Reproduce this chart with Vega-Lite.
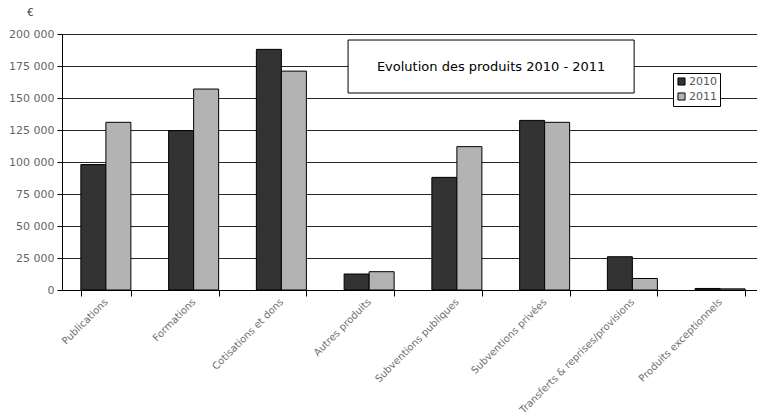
{
  "$schema": "https://vega.github.io/schema/vega-lite/v6.json",
  "autosize": "none",
  "width": 702,
  "height": 256,
  "padding": {"left": 62, "top": 34, "right": 0, "bottom": 129},
  "background": "white",
  "config": {
    "locale": {"number": {"decimal": ",", "thousands": " ", "grouping": [3], "currency": ["", " €"]}},
    "font": "DejaVu Sans",
    "view": {"stroke": null},
    "axis": {"labelFont": "DejaVu Sans", "titleFont": "DejaVu Sans"}
  },
  "datasets": {
    "produits": [
      {"cat": "Publications", "year": "2010", "v": 98000},
      {"cat": "Publications", "year": "2011", "v": 131000},
      {"cat": "Formations", "year": "2010", "v": 124500},
      {"cat": "Formations", "year": "2011", "v": 157000},
      {"cat": "Cotisations et dons", "year": "2010", "v": 188000},
      {"cat": "Cotisations et dons", "year": "2011", "v": 171000},
      {"cat": "Autres produits", "year": "2010", "v": 12500},
      {"cat": "Autres produits", "year": "2011", "v": 14300},
      {"cat": "Subventions publiques", "year": "2010", "v": 88000},
      {"cat": "Subventions publiques", "year": "2011", "v": 112000},
      {"cat": "Subventions privées", "year": "2010", "v": 132500},
      {"cat": "Subventions privées", "year": "2011", "v": 131000},
      {"cat": "Transferts & reprises/provisions", "year": "2010", "v": 26000},
      {"cat": "Transferts & reprises/provisions", "year": "2011", "v": 9000},
      {"cat": "Produits exceptionnels", "year": "2010", "v": 1200},
      {"cat": "Produits exceptionnels", "year": "2011", "v": 900}
    ],
    "titre": [{"label": "Evolution des produits 2010 - 2011"}]
  },
  "layer": [
    {
      "data": {"name": "produits"},
      "mark": {"type": "bar", "stroke": "#000000", "strokeWidth": 1},
      "encoding": {
        "x": {
          "field": "cat", "type": "nominal", "sort": null,
          "scale": {"paddingInner": 0.43, "paddingOuter": 0.215},
          "axis": {
            "title": null, "labelAngle": -45, "labelAlign": "right", "labelBaseline": "middle",
            "labelFontSize": 10, "labelColor": "#6e6e6e", "labelPadding": 4,
            "tickBand": "extent", "tickSize": 6, "tickColor": "#000000",
            "domainColor": "#000000", "grid": false
          }
        },
        "xOffset": {"field": "year", "type": "nominal"},
        "y": {
          "field": "v", "type": "quantitative",
          "scale": {"domain": [0, 200000], "nice": false},
          "axis": {
            "values": [0, 25000, 50000, 75000, 100000, 125000, 150000, 175000, 200000],
            "tickCount": 9,
            "labelOverlap": false, "format": ",d",
            "title": "€", "titleAngle": 0, "titleX": -32, "titleY": -17, "titleFontSize": 10, "titleFontWeight": "normal", "titleColor": "#333333",
            "labelFontSize": 11, "labelColor": "#666666", "labelPadding": 3,
            "tickSize": 5, "tickColor": "#000000", "domainColor": "#000000",
            "grid": true, "gridColor": "#000000", "gridOpacity": 0.85
          }
        },
        "fill": {
          "field": "year", "type": "nominal",
          "scale": {"domain": ["2010", "2011"], "range": ["#333333", "#b3b3b3"]},
          "legend": {
            "title": null, "orient": "none", "legendX": 611, "legendY": 39,
            "symbolType": "square", "symbolSize": 50, "symbolStrokeColor": "#000000", "symbolStrokeWidth": 1,
            "labelFontSize": 11, "labelColor": "#555555", "labelFont": "DejaVu Sans",
            "strokeColor": "#000000", "fillColor": "#ffffff", "padding": 3, "rowPadding": 2,
            "symbolOffset": 0, "labelOffset": 2
          }
        }
      }
    },
    {
      "data": {"name": "titre"},
      "mark": {"type": "rect", "fill": "#ffffff", "stroke": "#000000", "strokeWidth": 1},
      "encoding": {
        "x": {"datum": 3.26, "type": "quantitative", "scale": {"domain": [0, 8], "nice": false}, "axis": null},
        "x2": {"datum": 6.52},
        "y": {"datum": 195300, "type": "quantitative"},
        "y2": {"datum": 153900}
      }
    },
    {
      "data": {"name": "titre"},
      "mark": {"type": "text", "fontSize": 13, "color": "#000000", "font": "DejaVu Sans", "align": "center", "baseline": "middle"},
      "encoding": {
        "x": {"datum": 4.89, "type": "quantitative", "scale": {"domain": [0, 8], "nice": false}, "axis": null},
        "y": {"datum": 174300, "type": "quantitative"},
        "text": {"field": "label", "type": "nominal"}
      }
    }
  ],
  "resolve": {"scale": {"x": "independent", "fill": "independent"}}
}
